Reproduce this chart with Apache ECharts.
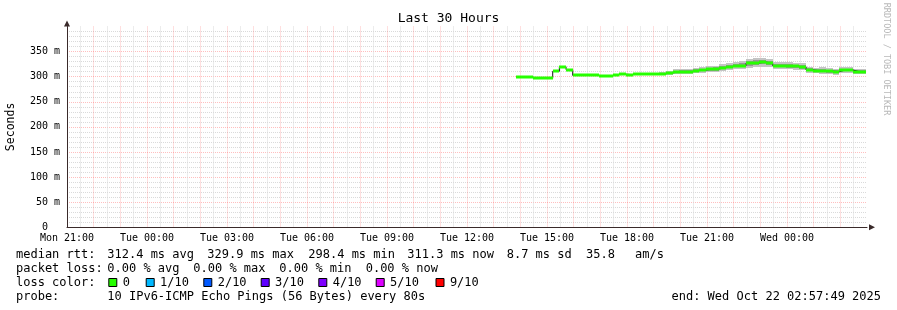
<!DOCTYPE html>
<html><head><meta charset="utf-8">
<script src="https://cdn.jsdelivr.net/npm/echarts@6/dist/echarts.min.js"></script>
<style>html,body{margin:0;padding:0;background:#fff}#c{width:897px;height:310px}#err{position:absolute;left:0;top:0;color:red;font:10px monospace}</style>
</head><body><div id="c"></div><div id="err"></div>
<script>
window.onerror = function(m){ document.getElementById('err').textContent = m; };
// ---- data ----
const tickLabels = ['Mon 21:00','Tue 00:00','Tue 03:00','Tue 06:00','Tue 09:00','Tue 12:00','Tue 15:00','Tue 18:00','Tue 21:00','Wed 00:00'];
const firstBucketHour = 16.714;   // hours after Mon 21:00
const bucketHours = 0.25;
const dataStartHour = 16.84;
const median = [299,299,299,297,297,297,310.8,320,314,302.5,302.5,302.5,302.5,302,302.3,304,305,304,305,305,305,305,306,307.5,309.6,310,310,312,313.5,315,315.5,318,320,322,322,326.7,327.5,329,327,322,322,322,320.5,320,313.5,312,312,311,310,313.5,313.5,310,310];
const smokeHi = [300.5,300.5,300.5,298.5,298.5,298.5,312,321,315.5,304,304,304,304,303.5,304,305.5,306.5,305.5,306.5,306.5,306.5,307,309.5,311.5,314.5,315,314.5,317,319,321,322,325,328,330,331,336,338,338,336,330,329.5,328.5,327.5,327,320,317.5,318.5,316.5,315,319,319,315.5,315.5];
const smokeLo = [297.5,297.5,297.5,295.5,295.5,295.5,309.5,318.5,312.5,301,301,301,301,300.5,300.5,302.5,303.5,302.5,303.5,303.5,303.5,303,302.5,303,304.5,305,304.5,306.5,308,309,309,312,313.5,315,315,318,318.5,320,319,315,315,314.5,313.5,312.5,307.5,306.5,305.5,304.5,303.5,307.5,307.5,304.5,304.5];
const innerHi = [299.8,299.8,299.8,297.8,297.8,297.8,311.5,320.5,314.8,303.2,303.2,303.2,303.2,302.8,303.2,304.8,305.8,304.8,305.8,305.8,305.8,306,308,309.5,312,312.5,312.5,314.5,316,318,318.5,321.5,324,326,326.5,331,332.5,333.5,331.5,326,325.5,325,324,323.5,316.5,314.5,315,313.5,312.5,316,316,312.5,312.5];
const innerLo = [298.2,298.2,298.2,296.2,296.2,296.2,310.1,319.5,313.2,301.8,301.8,301.8,301.8,301.2,301.4,303.2,304.2,303.2,304.2,304.2,304.2,304,304,305,307,307.5,307,309,310.5,312,312,315,316.5,318.5,318.5,322,322.5,324.5,323,318.5,318.5,318,317,316,310.5,309,308.5,308,307,310.5,310.5,307.5,307.5];

const titleText = 'Last 30 Hours';
const rttLabel = 'median rtt:';
const rttStats = ['312.4 ms avg','329.9 ms max','298.4 ms min','311.3 ms now','8.7 ms sd','35.8','am/s'];
const lossLabel = 'packet loss:';
const lossStats = ['0.00 % avg','0.00 % max','0.00 % min','0.00 % now'];
const lossColorLabel = 'loss color:';
const lossNames = ['0','1/10','2/10','3/10','4/10','5/10','9/10'];
const lossColors = ['#26ff00','#00b8ff','#0059ff','#5e00ff','#7e00ff','#dd00ff','#ff0000'];
const probeLabel = 'probe:';
const probeText = '10 IPv6-ICMP Echo Pings (56 Bytes) every 80s';
const endText = 'end: Wed Oct 22 02:57:49 2025';
const watermark = 'RRDTOOL / TOBI OETIKER';

// ---- build ----
const FONT = 'DejaVu Sans Mono';
function tStart(i){ return Math.max(dataStartHour, firstBucketHour + i*bucketHours); }
function tEnd(i){ return firstBucketHour + (i+1)*bucketHours; }

// one custom series draws the smoke (outer + inner) per bucket
const smokeSeries = {
  type:'custom', z:2, silent:true, clip:true,
  data: median.map((m,i)=>[tStart(i), tEnd(i), smokeLo[i], smokeHi[i], innerLo[i], innerHi[i]]),
  encode:{x:[0,1], y:[2,3]},
  renderItem(params, api){
    const t0 = api.value(0), t1 = api.value(1);
    const mk = (lo, hi, color) => {
      const a = api.coord([t0, hi]);
      const b = api.coord([t1, lo]);
      const x0 = Math.round(a[0]), x1 = Math.round(b[0]);
      const y0 = Math.round(a[1]), y1 = Math.max(Math.round(b[1]), y0+1);
      return {type:'rect', shape:{x:x0, y:y0, width:x1-x0, height:y1-y0}, style:{fill:color}};
    };
    return {type:'group', children:[
      mk(api.value(2), api.value(3), '#c4c4c4'),
      mk(api.value(4), api.value(5), '#979797')
    ]};
  }
};

const lineData = median.map((m,i)=>[tStart(i), m]);
lineData.push([tEnd(median.length-1), median[median.length-1]]);

const greenSeries = {
  type:'custom', z:5, silent:true, clip:true,
  data: median.map((m,i)=>[tStart(i), tEnd(i), m]),
  encode:{x:[0,1], y:2},
  renderItem(params, api){
    const a = api.coord([api.value(0), api.value(2)]);
    const b = api.coord([api.value(1), api.value(2)]);
    const x0 = Math.round(a[0]), x1 = Math.round(b[0]);
    return {type:'rect', shape:{x:x0, y:Math.round(a[1])-1.5, width:x1-x0, height:3}, style:{fill:lossColors[0]}};
  }
};

const graphics = [];
function txt(s, x, y, opts){
  graphics.push({type:'text', x, y, silent:true,
    style:Object.assign({text:s, font:'12px "'+FONT+'"', fill:'#000', textVerticalAlign:'middle'}, opts||{})});
}
txt(titleText, 448.5, 19, {font:'13px "'+FONT+'"', textAlign:'center'});
const rowY = [254.8, 268.8, 282.8, 296.8];
txt(rttLabel, 16, rowY[0]);
const rttX = [107.3, 207.3, 308.3, 407.3, 506.7, 586, 635];
rttStats.forEach((s,i)=>txt(s, rttX[i], rowY[0]));
txt(lossLabel, 16, rowY[1]);
const lossX = [107.3, 193.3, 279.3, 365.7];
lossStats.forEach((s,i)=>txt(s, lossX[i], rowY[1]));
txt(lossColorLabel, 16, rowY[2]);
const swX = [108.3, 145.7, 203.3, 260.7, 318.3, 375.7, 435.5];
lossNames.forEach((s,i)=>{
  graphics.push({type:'rect', silent:true, shape:{x:swX[i]+0.5, y:278.5, width:8, height:8},
    style:{fill:lossColors[i], stroke:'#000', lineWidth:1}});
  txt(s, swX[i]+14.4, rowY[2]);
});
txt(probeLabel, 16, rowY[3]);
txt(probeText, 107.3, rowY[3]);
txt(endText, 881, rowY[3], {textAlign:'right'});
graphics.push({type:'text', x:886, y:59, rotation:-Math.PI/2, silent:true,
  style:{text:watermark, font:'8.5px "'+FONT+'"', fill:'#b8b8b8', textAlign:'center', textVerticalAlign:'middle'}});

const chart = echarts.init(document.getElementById('c'), null, {renderer:'canvas'});
chart.setOption({
  animation:false,
  backgroundColor:'#fff',
  grid:{left:67, right:30, top:26.5, bottom:82.7, containLabel:false, outerBoundsMode:'none'},
  xAxis:{
    type:'value', min:0, max:30, interval:1,
    axisLine:{show:true, lineStyle:{color:'#3a2a2a', width:1}, symbol:['none','triangle'], symbolSize:[6,6], symbolOffset:[0,5]},
    axisTick:{show:false},
    axisLabel:{show:true, margin:6, color:'#000', fontFamily:FONT, fontSize:10,
      formatter:v=>(v%3===0 && v/3<tickLabels.length) ? tickLabels[v/3] : ''},
    splitLine:{show:true, showMinLine:false, showMaxLine:false, lineStyle:{color:'rgba(255,70,70,0.35)', type:[1,1], width:1}},
    minorTick:{show:false, splitNumber:2},
    minorSplitLine:{show:true, lineStyle:{color:'#dadada', type:[1,1], width:1}}
  },
  yAxis:{
    type:'value', min:0, max:400, interval:50,
    name:'Seconds', nameLocation:'middle', nameGap:50, nameRotate:90,
    nameTextStyle:{fontFamily:FONT, fontSize:11.5, color:'#000'},
    axisLine:{show:true, lineStyle:{color:'#3a2a2a', width:1}, symbol:['none','triangle'], symbolSize:[6,6], symbolOffset:[0,3]},
    axisTick:{show:false},
    axisLabel:{show:true, showMaxLabel:false, margin:7, color:'#000', fontFamily:FONT, fontSize:10,
      formatter:v=> v===0 ? '0  ' : v+' m'},
    splitLine:{show:true, showMinLine:false, showMaxLine:false, lineStyle:{color:'rgba(255,70,70,0.35)', type:[1,1], width:1}},
    minorTick:{show:false, splitNumber:5},
    minorSplitLine:{show:true, lineStyle:{color:'#dadada', type:[1,1], width:1}}
  },
  series:[
    smokeSeries,
    {type:'line', z:4, step:'end', data:lineData, symbol:'none', silent:true,
      lineStyle:{color:'#111', width:1}},
    greenSeries
  ],
  graphic:graphics
});
</script>
</body></html>
